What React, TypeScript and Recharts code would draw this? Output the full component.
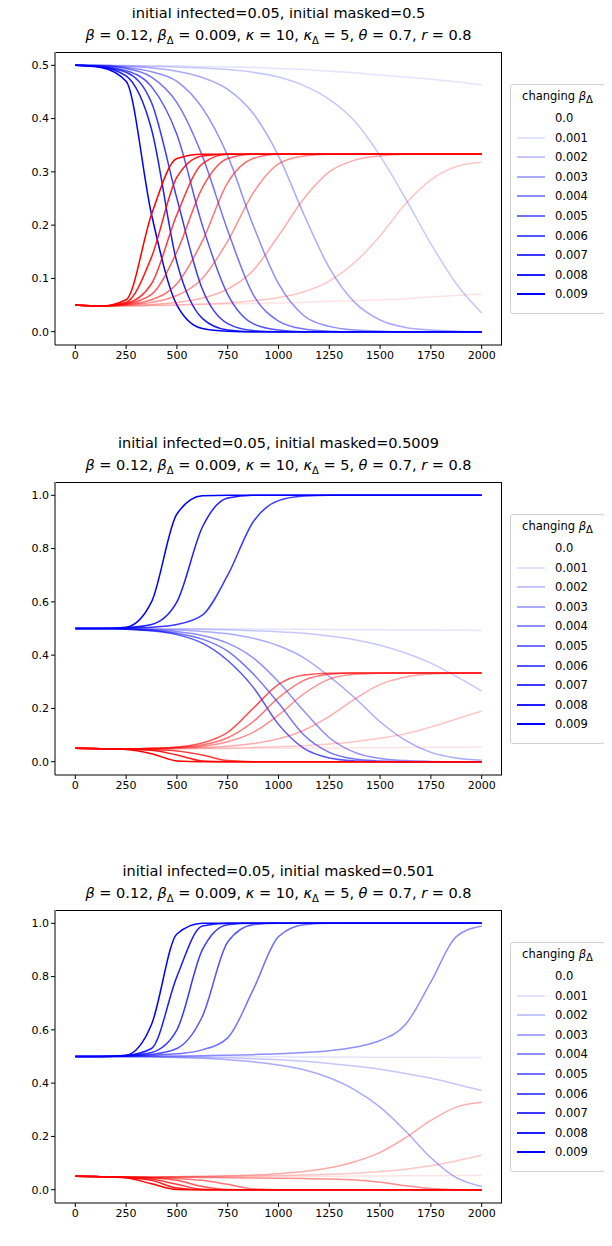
import React from "react"
import { LineChart, Line, XAxis, YAxis } from "recharts"

const xs = [0, 125, 250, 375, 500, 625, 750, 875, 1000, 1125, 1250, 1375, 1500, 1625, 1750, 1875, 2000]
const betaLabels = ["0.0", "0.001", "0.002", "0.003", "0.004", "0.005", "0.006", "0.007", "0.008", "0.009"]
const maskedLabels = ["0.5", "0.5009", "0.501"]

const blue1 = [
  [0.5, 0.5, 0.5, 0.5, 0.5, 0.5, 0.5, 0.5, 0.5, 0.5, 0.5, 0.5, 0.5, 0.5, 0.5, 0.5, 0.5],
  [0.5, 0.5, 0.5, 0.499, 0.499, 0.498, 0.497, 0.496, 0.494, 0.492, 0.489, 0.486, 0.482, 0.478, 0.474, 0.469, 0.463],
  [0.5, 0.5, 0.499, 0.498, 0.497, 0.495, 0.492, 0.487, 0.478, 0.462, 0.436, 0.395, 0.33, 0.25, 0.165, 0.09, 0.035],
  [0.5, 0.5, 0.498, 0.495, 0.489, 0.477, 0.455, 0.41, 0.33, 0.22, 0.12, 0.055, 0.022, 0.008, 0.003, 0.001, 0],
  [0.5, 0.499, 0.496, 0.488, 0.47, 0.42, 0.33, 0.2, 0.09, 0.03, 0.01, 0.003, 0.001, 0, 0, 0, 0],
  [0.5, 0.499, 0.494, 0.478, 0.43, 0.33, 0.19, 0.07, 0.02, 0.005, 0.001, 0, 0, 0, 0, 0, 0],
  [0.5, 0.498, 0.49, 0.46, 0.37, 0.2, 0.07, 0.015, 0.003, 0, 0, 0, 0, 0, 0, 0, 0],
  [0.5, 0.497, 0.487, 0.43, 0.25, 0.08, 0.015, 0.002, 0, 0, 0, 0, 0, 0, 0, 0, 0],
  [0.5, 0.497, 0.48, 0.38, 0.13, 0.025, 0.003, 0, 0, 0, 0, 0, 0, 0, 0, 0, 0],
  [0.5, 0.496, 0.47, 0.22, 0.05, 0.006, 0.001, 0, 0, 0, 0, 0, 0, 0, 0, 0, 0],
]
const red1 = [
  [0.05, 0.048, 0.048, 0.048, 0.049, 0.049, 0.049, 0.05, 0.05, 0.05, 0.05, 0.051, 0.051, 0.051, 0.051, 0.052, 0.052],
  [0.05, 0.048, 0.048, 0.049, 0.05, 0.051, 0.052, 0.053, 0.054, 0.055, 0.057, 0.058, 0.06, 0.062, 0.065, 0.068, 0.071],
  [0.05, 0.048, 0.048, 0.049, 0.05, 0.052, 0.054, 0.058, 0.064, 0.075, 0.095, 0.13, 0.18, 0.24, 0.285, 0.31, 0.318],
  [0.05, 0.048, 0.049, 0.051, 0.055, 0.063, 0.08, 0.115, 0.18, 0.25, 0.3, 0.322, 0.33, 0.333, 0.333, 0.333, 0.333],
  [0.05, 0.048, 0.05, 0.055, 0.068, 0.1, 0.17, 0.26, 0.315, 0.33, 0.333, 0.333, 0.333, 0.333, 0.333, 0.333, 0.333],
  [0.05, 0.048, 0.051, 0.06, 0.09, 0.17, 0.28, 0.325, 0.333, 0.333, 0.333, 0.333, 0.333, 0.333, 0.333, 0.333, 0.333],
  [0.05, 0.048, 0.052, 0.07, 0.15, 0.27, 0.325, 0.333, 0.333, 0.333, 0.333, 0.333, 0.333, 0.333, 0.333, 0.333, 0.333],
  [0.05, 0.048, 0.053, 0.09, 0.22, 0.315, 0.333, 0.333, 0.333, 0.333, 0.333, 0.333, 0.333, 0.333, 0.333, 0.333, 0.333],
  [0.05, 0.048, 0.055, 0.14, 0.29, 0.33, 0.333, 0.333, 0.333, 0.333, 0.333, 0.333, 0.333, 0.333, 0.333, 0.333, 0.333],
  [0.05, 0.048, 0.06, 0.22, 0.325, 0.333, 0.333, 0.333, 0.333, 0.333, 0.333, 0.333, 0.333, 0.333, 0.333, 0.333, 0.333],
]

const blue2 = [
  [0.5, 0.5, 0.5, 0.5, 0.5, 0.5, 0.5, 0.5, 0.5, 0.5, 0.5, 0.5, 0.5, 0.5, 0.5, 0.5, 0.5],
  [0.5, 0.5, 0.5, 0.5, 0.499, 0.499, 0.498, 0.498, 0.497, 0.497, 0.496, 0.495, 0.495, 0.494, 0.494, 0.493, 0.492],
  [0.5, 0.5, 0.5, 0.499, 0.498, 0.497, 0.495, 0.492, 0.488, 0.482, 0.472, 0.458, 0.437, 0.408, 0.37, 0.32, 0.265],
  [0.5, 0.5, 0.499, 0.497, 0.494, 0.489, 0.48, 0.463, 0.435, 0.39, 0.32, 0.24, 0.15, 0.08, 0.035, 0.014, 0.005],
  [0.5, 0.5, 0.498, 0.495, 0.488, 0.474, 0.445, 0.39, 0.3, 0.19, 0.09, 0.035, 0.012, 0.004, 0.001, 0, 0],
  [0.5, 0.5, 0.498, 0.493, 0.482, 0.46, 0.415, 0.33, 0.22, 0.1, 0.035, 0.01, 0.003, 0, 0, 0, 0],
  [0.5, 0.5, 0.497, 0.491, 0.477, 0.445, 0.38, 0.28, 0.14, 0.05, 0.014, 0.003, 0, 0, 0, 0, 0],
  [0.5, 0.5, 0.502, 0.505, 0.515, 0.55, 0.7, 0.9, 0.98, 0.997, 1, 1, 1, 1, 1, 1, 1],
  [0.5, 0.5, 0.503, 0.515, 0.6, 0.88, 0.99, 1, 1, 1, 1, 1, 1, 1, 1, 1, 1],
  [0.5, 0.5, 0.505, 0.6, 0.93, 0.998, 1, 1, 1, 1, 1, 1, 1, 1, 1, 1, 1],
]
const red2 = [
  [0.05, 0.049, 0.048, 0.048, 0.049, 0.049, 0.049, 0.05, 0.05, 0.05, 0.05, 0.05, 0.05, 0.05, 0.05, 0.05, 0.05],
  [0.05, 0.049, 0.048, 0.048, 0.048, 0.049, 0.049, 0.05, 0.05, 0.051, 0.051, 0.052, 0.052, 0.053, 0.054, 0.054, 0.055],
  [0.05, 0.049, 0.048, 0.048, 0.049, 0.05, 0.051, 0.053, 0.056, 0.06, 0.066, 0.075, 0.088, 0.105, 0.13, 0.16, 0.19],
  [0.05, 0.049, 0.048, 0.049, 0.05, 0.053, 0.058, 0.068, 0.086, 0.118, 0.17, 0.235, 0.29, 0.318, 0.329, 0.332, 0.333],
  [0.05, 0.049, 0.048, 0.049, 0.052, 0.058, 0.075, 0.11, 0.175, 0.255, 0.31, 0.328, 0.332, 0.333, 0.333, 0.333, 0.333],
  [0.05, 0.049, 0.048, 0.05, 0.053, 0.063, 0.09, 0.15, 0.24, 0.305, 0.328, 0.333, 0.333, 0.333, 0.333, 0.333, 0.333],
  [0.05, 0.049, 0.048, 0.05, 0.055, 0.07, 0.11, 0.2, 0.29, 0.325, 0.332, 0.333, 0.333, 0.333, 0.333, 0.333, 0.333],
  [0.05, 0.049, 0.047, 0.045, 0.04, 0.025, 0.004, 0, 0, 0, 0, 0, 0, 0, 0, 0, 0],
  [0.05, 0.049, 0.047, 0.043, 0.025, 0.003, 0, 0, 0, 0, 0, 0, 0, 0, 0, 0, 0],
  [0.05, 0.049, 0.046, 0.03, 0.003, 0, 0, 0, 0, 0, 0, 0, 0, 0, 0, 0, 0],
]

const blue3 = [
  [0.5, 0.5, 0.5, 0.5, 0.5, 0.5, 0.5, 0.5, 0.5, 0.5, 0.5, 0.5, 0.5, 0.5, 0.5, 0.5, 0.5],
  [0.5, 0.5, 0.5, 0.5, 0.5, 0.5, 0.499, 0.499, 0.499, 0.498, 0.498, 0.498, 0.497, 0.497, 0.497, 0.496, 0.496],
  [0.5, 0.5, 0.5, 0.499, 0.498, 0.497, 0.495, 0.492, 0.488, 0.482, 0.474, 0.464, 0.452, 0.436, 0.418, 0.396, 0.372],
  [0.5, 0.5, 0.499, 0.498, 0.496, 0.493, 0.488, 0.48, 0.468, 0.45, 0.42, 0.375, 0.31, 0.22, 0.12, 0.045, 0.012],
  [0.5, 0.5, 0.5, 0.501, 0.502, 0.503, 0.505, 0.507, 0.51, 0.515, 0.522, 0.535, 0.56, 0.62, 0.78, 0.95, 0.99],
  [0.5, 0.5, 0.502, 0.505, 0.51, 0.525, 0.57, 0.75, 0.95, 0.995, 1, 1, 1, 1, 1, 1, 1],
  [0.5, 0.5, 0.502, 0.508, 0.53, 0.65, 0.93, 0.995, 1, 1, 1, 1, 1, 1, 1, 1, 1],
  [0.5, 0.5, 0.503, 0.515, 0.6, 0.9, 0.995, 1, 1, 1, 1, 1, 1, 1, 1, 1, 1],
  [0.5, 0.5, 0.504, 0.53, 0.8, 0.99, 1, 1, 1, 1, 1, 1, 1, 1, 1, 1, 1],
  [0.5, 0.5, 0.505, 0.62, 0.96, 1, 1, 1, 1, 1, 1, 1, 1, 1, 1, 1, 1],
]
const red3 = [
  [0.05, 0.049, 0.048, 0.048, 0.049, 0.049, 0.049, 0.05, 0.05, 0.05, 0.05, 0.05, 0.05, 0.05, 0.05, 0.05, 0.05],
  [0.05, 0.049, 0.048, 0.048, 0.048, 0.049, 0.049, 0.049, 0.05, 0.05, 0.05, 0.051, 0.051, 0.052, 0.052, 0.053, 0.054],
  [0.05, 0.049, 0.048, 0.048, 0.049, 0.049, 0.05, 0.051, 0.053, 0.055, 0.058, 0.062, 0.068, 0.077, 0.09, 0.108, 0.13],
  [0.05, 0.049, 0.048, 0.048, 0.049, 0.05, 0.052, 0.055, 0.06, 0.068, 0.082, 0.105, 0.14, 0.195, 0.26, 0.31, 0.328],
  [0.05, 0.049, 0.048, 0.047, 0.047, 0.046, 0.045, 0.044, 0.043, 0.042, 0.04, 0.036, 0.028, 0.015, 0.004, 0, 0],
  [0.05, 0.049, 0.047, 0.045, 0.042, 0.035, 0.02, 0.003, 0, 0, 0, 0, 0, 0, 0, 0, 0],
  [0.05, 0.049, 0.047, 0.044, 0.035, 0.012, 0.001, 0, 0, 0, 0, 0, 0, 0, 0, 0, 0],
  [0.05, 0.049, 0.046, 0.04, 0.02, 0.002, 0, 0, 0, 0, 0, 0, 0, 0, 0, 0, 0],
  [0.05, 0.049, 0.046, 0.035, 0.006, 0, 0, 0, 0, 0, 0, 0, 0, 0, 0, 0, 0],
  [0.05, 0.049, 0.045, 0.022, 0.001, 0, 0, 0, 0, 0, 0, 0, 0, 0, 0, 0, 0],
]

const xTicks = [0, 250, 500, 750, 1000, 1250, 1500, 1750, 2000]
const yTicksHalf = [0, 0.1, 0.2, 0.3, 0.4, 0.5]
const yTicksFull = [0, 0.2, 0.4, 0.6, 0.8, 1.0]

const font = "'DejaVu Sans', sans-serif"

const buildRows = (blue: number[][], red: number[][]) =>
  xs.map((x, i) => {
    const row: any = { x }
    blue.forEach((s, k) => (row[`b${k}`] = s[i]))
    red.forEach((s, k) => (row[`r${k}`] = s[i]))
    return row
  })

const Sub = ({ c }: { c: string }) => <sub style={{ fontSize: 10 }}>{c}</sub>

const Panel = ({ top, masked, blue, red, full }: any) => {
  const data = buildRows(blue, red)
  return (
    <div style={{ position: "absolute", left: 0, top, width: 612, height: 420 }}>
      <div style={{ position: "absolute", left: 55, width: 447, top: 2, textAlign: "center", fontSize: 14.5, lineHeight: "22px", color: "#000" }}>
        <div>initial infected=0.05, initial masked={masked}</div>
        <div>
          <i>β</i> = 0.12, <i>β</i><Sub c="Δ" /> = 0.009, <i>κ</i> = 10, <i>κ</i><Sub c="Δ" /> = 5, <i>θ</i> = 0.7, <i>r</i> = 0.8
        </div>
      </div>
      <LineChart width={503} height={375} data={data} margin={{ top: 52, right: 1, left: 8, bottom: 0 }}>
        <XAxis
          dataKey="x" type="number" domain={[-100, 2100]} ticks={xTicks}
          tick={{ fill: "#000", fontSize: 11, fontFamily: font }}
          tickSize={4} stroke="#000" height={30} allowDataOverflow
        />
        <YAxis
          type="number" domain={full ? [-0.05, 1.05] : [-0.025, 0.525]}
          ticks={full ? yTicksFull : yTicksHalf}
          tickFormatter={(v: number) => v.toFixed(1)}
          tick={{ fill: "#000", fontSize: 11, fontFamily: font }}
          tickSize={4} stroke="#000" width={47} allowDataOverflow
        />
        {blue.map((_: any, k: number) => (
          <Line key={`b${k}`} dataKey={`b${k}`} type="monotone" dot={false} stroke="#0000ff" strokeOpacity={k / 9} strokeWidth={1.5} isAnimationActive={false} />
        ))}
        {red.map((_: any, k: number) => (
          <Line key={`r${k}`} dataKey={`r${k}`} type="monotone" dot={false} stroke="#ff0000" strokeOpacity={k / 9} strokeWidth={1.5} isAnimationActive={false} />
        ))}
        {/* top/right frame */}
        <line />
      </LineChart>
      <div style={{ position: "absolute", left: 56, top: 52, width: 446, height: 293, border: "1px solid #000", borderLeft: "none", borderBottom: "none", boxSizing: "border-box", pointerEvents: "none" }} />
      <div style={{ position: "absolute", left: 510, top: 84, width: 95, height: 230, border: "1px solid #d0d0d0", borderRadius: 3, boxSizing: "border-box", fontSize: 11.5, padding: "4px 0 0 0" }}>
        <div style={{ textAlign: "center", marginBottom: 3 }}>changing <i>β</i><Sub c="Δ" /></div>
        {betaLabels.map((l, k) => (
          <div key={l} style={{ display: "flex", alignItems: "center", height: 19.6 }}>
            <div style={{ width: 28, height: 2, marginLeft: 6, marginRight: 10, background: "#0000ff", opacity: k / 9 }} />
            <span>{l}</span>
          </div>
        ))}
      </div>
    </div>
  )
}

export default function App() {
  return (
    <div style={{ position: "relative", width: 612, height: 1246, margin: -8, background: "#fff", fontFamily: font }}>
      <Panel top={0} masked={maskedLabels[0]} blue={blue1} red={red1} full={false} />
      <Panel top={430} masked={maskedLabels[1]} blue={blue2} red={red2} full />
      <Panel top={858} masked={maskedLabels[2]} blue={blue3} red={red3} full />
    </div>
  )
}
